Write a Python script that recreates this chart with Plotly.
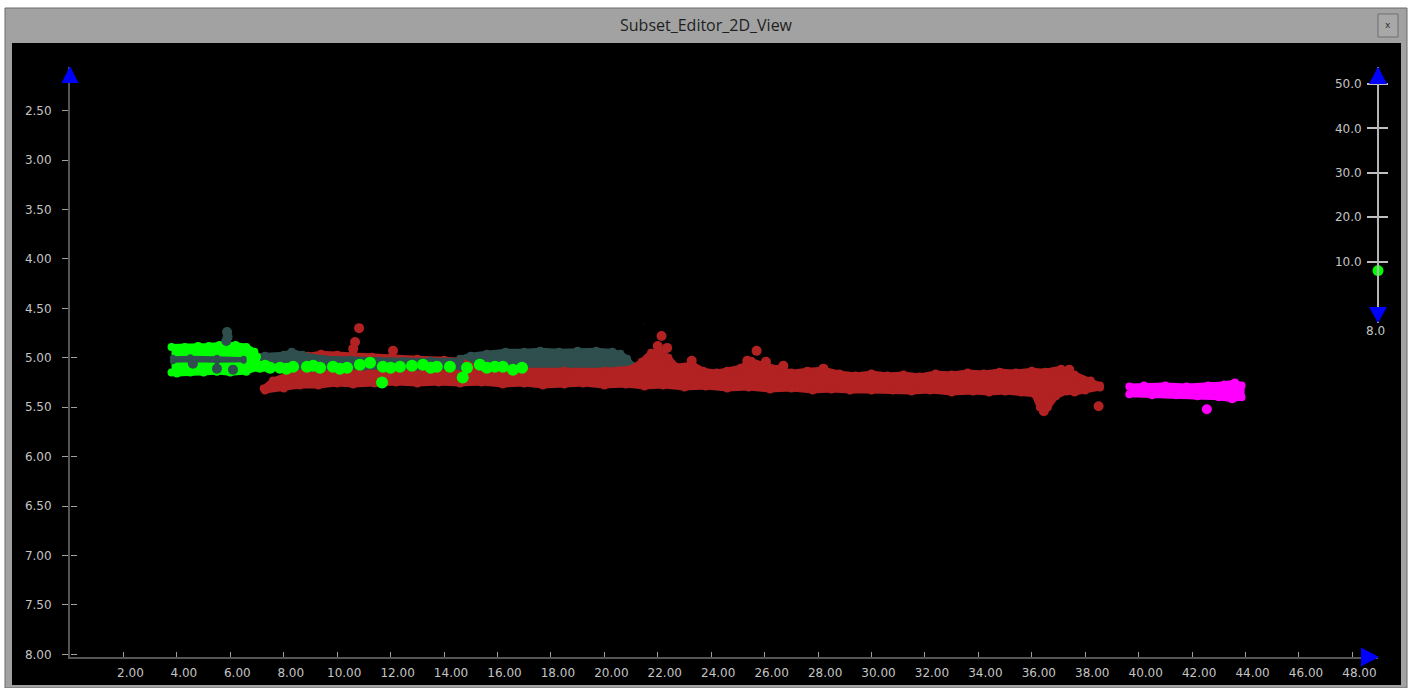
import plotly.graph_objects as go

# ---------------- data ----------------
x_tick_vals = [2, 4, 6, 8, 10, 12, 14, 16, 18, 20, 22, 24, 26, 28, 30, 32, 34, 36, 38, 40, 42, 44, 46, 48]
x_tick_text = ["2.00", "4.00", "6.00", "8.00", "10.00", "12.00", "14.00", "16.00", "18.00", "20.00",
               "22.00", "24.00", "26.00", "28.00", "30.00", "32.00", "34.00", "36.00", "38.00", "40.00",
               "42.00", "44.00", "46.00", "48.00"]
y_tick_vals = [2.5, 3.0, 3.5, 4.0, 4.5, 5.0, 5.5, 6.0, 6.5, 7.0, 7.5, 8.0]
y_tick_text = ["2.50", "3.00", "3.50", "4.00", "4.50", "5.00", "5.50", "6.00", "6.50", "7.00", "7.50", "8.00"]
scale_tick_vals = [10, 20, 30, 40, 50]
scale_tick_text = ["10.0", "20.0", "30.0", "40.0", "50.0"]
scale_value = [8.0]
scale_min_label = "8.0"
title_text = "Subset_Editor_2D_View"

red_band_x = [7.25, 7.6, 8.2, 8.6, 8.9, 9.4, 10.0, 10.6, 11.3, 12.0, 13.0, 14.0, 14.6, 15.2, 16.0, 17.0, 18.5,
              20.0, 21.0, 21.4, 21.75, 22.1, 22.4, 22.7, 23.3, 23.7, 24.2, 24.6, 25.1, 25.5, 25.9, 26.5, 27.0,
              27.6, 28.2, 28.8, 29.4, 30.0, 30.6, 31.2, 31.8, 32.4, 33.0, 33.6, 34.2, 34.8, 35.4, 36.0, 36.5,
              37.1, 37.6, 38.2, 38.55,
              38.55, 38.0, 37.6, 37.3, 36.9, 36.6, 36.3, 36.1, 35.6, 35.0, 34.4, 33.8, 33.0, 32.2, 31.5, 30.8,
              30.0, 29.2, 28.5, 27.8, 27.0, 26.2, 25.4, 24.6, 23.8, 23.0, 22.2, 21.5, 20.8, 20.0, 19.2, 18.5,
              17.7, 17.0, 16.2, 15.4, 14.6, 13.8, 13.0, 12.2, 11.4, 10.6, 10.0, 9.3, 8.6, 8.0, 7.3]
red_band_y = [5.31, 5.23, 5.17, 5.07, 4.98, 4.96, 4.97, 4.97, 4.99, 5.00, 5.01, 5.02, 5.03, 5.10, 5.12, 5.13, 5.13,
              5.13, 5.11, 5.04, 4.95, 4.93, 5.00, 5.09, 5.07, 5.13, 5.15, 5.13, 5.10, 5.03, 5.07, 5.11, 5.15,
              5.13, 5.12, 5.16, 5.18, 5.16, 5.18, 5.17, 5.19, 5.16, 5.17, 5.15, 5.16, 5.14, 5.15, 5.13, 5.14,
              5.11, 5.17, 5.23, 5.28,
              5.30, 5.33, 5.35, 5.34, 5.39, 5.50, 5.50, 5.37, 5.35, 5.34, 5.35, 5.34, 5.35, 5.33, 5.34, 5.33,
              5.33, 5.33, 5.32, 5.33, 5.31, 5.32, 5.30, 5.31, 5.29, 5.30, 5.28, 5.29, 5.27, 5.28, 5.26, 5.27,
              5.28, 5.26, 5.27, 5.25, 5.26, 5.25, 5.26, 5.25, 5.26, 5.27, 5.26, 5.28, 5.28, 5.31, 5.33]
red_pts_x = [10.82, 10.67, 10.6, 12.09, 21.46, 22.14, 22.0, 22.35, 23.27, 25.7, 25.35, 26.05, 26.7, 28.2, 36.45, 38.5, 37.4]
red_pts_y = [4.70, 4.84, 4.91, 4.93, 4.60, 4.78, 4.88, 4.90, 5.03, 4.93, 5.03, 5.04, 5.08, 5.11, 5.54, 5.49, 5.12]

slate_mound_x = [14.6, 15.0, 15.6, 16.3, 17.0, 17.6, 18.3, 19.0, 19.7, 20.3, 20.6, 20.85, 21.05,
                 21.05, 20.0, 18.0, 16.5, 15.0, 14.6]
slate_mound_y = [5.01, 4.98, 4.96, 4.94, 4.94, 4.93, 4.94, 4.93, 4.93, 4.94, 4.96, 5.01, 5.08,
                 5.12, 5.13, 5.13, 5.12, 5.10, 5.08]
slate_row_x = [6.7, 7.3, 8.0, 8.3, 8.7, 9.5, 10.5, 11.5, 12.5, 13.5, 14.6,
               14.6, 13.0, 11.0, 9.0, 8.0, 7.2, 6.7]
slate_row_y = [4.99, 4.98, 4.97, 4.94, 4.97, 5.01, 5.02, 5.03, 5.03, 5.03, 5.03,
               5.09, 5.09, 5.09, 5.10, 5.10, 5.09, 5.07]
slate_stripe_x = [3.85, 4.5, 5.5, 6.5, 6.5, 5.5, 4.5, 3.85]
slate_stripe_y = [5.00, 4.995, 5.00, 5.01, 5.03, 5.035, 5.03, 5.035]
slate_pts_x = [5.88, 5.9, 5.85, 6.1, 5.5, 4.6]
slate_pts_y = [4.74, 4.79, 4.83, 5.12, 5.11, 5.06]

green_block_x = [3.8, 4.3, 4.8, 5.2, 5.6, 6.2, 6.6, 6.9, 7.0, 7.0, 6.6, 6.0, 5.5, 5.0, 4.5, 4.0, 3.8]
green_block_y = [4.89, 4.89, 4.88, 4.88, 4.87, 4.87, 4.89, 4.94, 4.99, 5.10, 5.14, 5.15, 5.14, 5.15, 5.15, 5.16, 5.15]
green_pts_x = [7.11, 7.3, 7.49, 7.86, 8.1, 8.35, 8.87, 9.1, 9.36, 9.84, 10.1, 10.37, 10.85, 11.23, 11.71, 12.0,
               12.35, 12.8, 13.21, 13.5, 13.73, 14.22, 14.86, 15.34, 15.6, 15.9, 16.2, 16.58, 16.92, 11.68, 14.7]
green_pts_y = [5.09, 5.08, 5.10, 5.10, 5.11, 5.09, 5.09, 5.08, 5.10, 5.09, 5.11, 5.10, 5.07, 5.05, 5.09, 5.10,
               5.09, 5.08, 5.07, 5.10, 5.09, 5.09, 5.10, 5.07, 5.10, 5.09, 5.09, 5.12, 5.10, 5.25, 5.20]

magenta_band_x = [39.65, 40.2, 41.0, 41.8, 42.6, 43.2, 43.6, 43.85, 43.85, 43.5, 43.0, 42.2, 41.4, 40.5, 39.65]
magenta_band_y = [5.29, 5.28, 5.28, 5.29, 5.28, 5.27, 5.25, 5.28, 5.40, 5.42, 5.40, 5.39, 5.38, 5.38, 5.37]
magenta_pts_x = [42.55]
magenta_pts_y = [5.52]

# ---------------- geometry / style ----------------
W, H = 1411, 688
L, R, T, B = 70, 33, 67, 31
PX_PER_X = 26.717
PX_PER_Y = 98.836
X_MAX = (W - L - R) / PX_PER_X
Y_TOP = 2.5 - (110.7 - T) / PX_PER_Y
Y_BOT = 8.0 + ((H - B) - 654.3) / PX_PER_Y
S_PX = 4.4425
S_TOP = 50 + (84 - T) / S_PX
S_BOT = 10 - (323 - 261.7) / S_PX

RED, SLATE, GREEN, MAGENTA = "#b22222", "#2f4f4f", "#00ff00", "#ff00ff"
BLUE = "#0000ff"
TICKFONT = dict(family="DejaVu Sans", size=12, color="#c4c4c4")


def fx(px):
    return (px - L) / (W - L - R)


def fy(py):
    return ((H - B) - py) / (H - T - B)


def band(xs, ys, color, lw=6, ms=8):
    return go.Scatter(x=xs, y=ys, mode="lines+markers", fill="toself", fillcolor=color,
                      line=dict(color=color, width=lw), marker=dict(color=color, size=ms),
                      hoverinfo="skip", showlegend=False)


def pts(xs, ys, color, size=10):
    return go.Scatter(x=xs, y=ys, mode="markers", marker=dict(color=color, size=size),
                      hoverinfo="skip", showlegend=False)


fig = go.Figure()
fig.add_trace(band(slate_mound_x, slate_mound_y, SLATE))
fig.add_trace(band(red_band_x, red_band_y, RED))
fig.add_trace(pts(red_pts_x, red_pts_y, RED))
fig.add_trace(band(slate_row_x, slate_row_y, SLATE))
fig.add_trace(band(green_block_x, green_block_y, GREEN))
fig.add_trace(band(slate_stripe_x, slate_stripe_y, SLATE, lw=3, ms=6))
fig.add_trace(pts(slate_pts_x, slate_pts_y, SLATE))
fig.add_trace(pts(green_pts_x, green_pts_y, GREEN, 12))
fig.add_trace(band(magenta_band_x, magenta_band_y, MAGENTA))
fig.add_trace(pts(magenta_pts_x, magenta_pts_y, MAGENTA))
# slider value on the right-hand scale
fig.add_trace(go.Scatter(x=[X_MAX], y=scale_value, yaxis="y2", mode="markers", cliponaxis=False,
                         marker=dict(color=GREEN, size=11), hoverinfo="skip", showlegend=False))
fig.add_trace(go.Scatter(x=[X_MAX], y=scale_value, yaxis="y3", mode="markers", opacity=0,
                         hoverinfo="skip", showlegend=False))
fig.add_trace(go.Scatter(x=[X_MAX], y=[8.0], yaxis="y4", mode="markers", opacity=0,
                         hoverinfo="skip", showlegend=False))

shapes = [
    dict(type="rect", xref="paper", yref="paper", x0=fx(0), x1=fx(W), y0=fy(H), y1=fy(0),
         fillcolor="#ffffff", line=dict(width=0), layer="below"),
    dict(type="rect", xref="paper", yref="paper", x0=fx(5), x1=fx(1407), y0=fy(H), y1=fy(8),
         fillcolor="#a2a2a2", line=dict(color="#6a6a6a", width=1), layer="below"),
    dict(type="rect", xref="paper", yref="paper", x0=fx(12), x1=fx(1401), y0=fy(685), y1=fy(43),
         fillcolor="#000000", line=dict(width=0), layer="below"),
    dict(type="rect", xref="paper", yref="paper", x0=fx(1378), x1=fx(1398), y0=fy(37), y1=fy(14),
         fillcolor="#a8a8a8", line=dict(color="#6e6e6e", width=1), layer="below"),
]


def tri(p1, p2, p3):
    return dict(type="path", xref="paper", yref="paper", layer="above",
                path="M {:.5f},{:.5f} L {:.5f},{:.5f} L {:.5f},{:.5f} Z".format(
                    fx(p1[0]), fy(p1[1]), fx(p2[0]), fy(p2[1]), fx(p3[0]), fy(p3[1])),
                fillcolor=BLUE, line=dict(width=0))


shapes += [
    tri((70, 66), (61.5, 83), (78.5, 83)),
    tri((1379, 657), (1361, 647.5), (1361, 666.5)),
    tri((1378, 66.5), (1369, 84), (1387, 84)),
    tri((1378, 323), (1369, 307), (1387, 307)),
]

annotations = [
    dict(xref="paper", yref="paper", x=fx(706), y=fy(25), text=title_text, showarrow=False,
         font=dict(family="Open Sans", size=16, color="#1e1e1e"), xanchor="center", yanchor="middle"),
    dict(xref="paper", yref="paper", x=fx(1388), y=fy(25), text="x", showarrow=False,
         font=dict(family="DejaVu Sans", size=9, color="#303030"), xanchor="center", yanchor="middle"),
    dict(xref="paper", yref="paper", x=fx(1375), y=fy(331), text=scale_min_label, showarrow=False,
         font=TICKFONT, xanchor="center", yanchor="middle"),
]

fig.update_layout(
    width=W, height=H,
    margin=dict(l=L, r=R, t=T, b=B, pad=0, autoexpand=False),
    paper_bgcolor="#000000", plot_bgcolor="#000000",
    showlegend=False, hovermode=False,
    shapes=shapes, annotations=annotations,
    xaxis=dict(range=[0, X_MAX], domain=[0, 1], showgrid=False, zeroline=False, automargin=False,
               showline=True, linecolor="#555555", linewidth=2,
               tickmode="array", tickvals=x_tick_vals, ticktext=x_tick_text,
               ticks="inside", ticklen=5, tickcolor="#a0a0a0", tickwidth=1,
               ticklabelshift=7, ticklabelstandoff=4, tickfont=TICKFONT),
    yaxis=dict(range=[Y_BOT, Y_TOP], domain=[0, 1], showgrid=False, zeroline=False, automargin=False,
               showline=True, linecolor="#555555", linewidth=2,
               tickmode="array", tickvals=y_tick_vals, ticktext=y_tick_text,
               ticks="outside", ticklen=6, tickcolor="#a0a0a0", tickwidth=1,
               ticklabelstandoff=8, tickfont=TICKFONT),
    yaxis4=dict(range=[Y_BOT, Y_TOP], overlaying="y", anchor="free", position=0, side="right",
                showgrid=False, zeroline=False, showline=False, showticklabels=False, automargin=False,
                tickmode="array", tickvals=y_tick_vals,
                ticks="outside", ticklen=6, tickcolor="#a0a0a0", tickwidth=1),
    yaxis2=dict(range=[S_BOT, S_TOP], domain=[fy(323), fy(67)], anchor="free", position=1, side="left",
                showgrid=False, zeroline=False, showline=True, linecolor="#b4b4b4", linewidth=2,
                automargin=False,
                tickmode="array", tickvals=scale_tick_vals, ticktext=scale_tick_text,
                ticks="outside", ticklen=10, tickcolor="#c0c0c0", tickwidth=2,
                ticklabelstandoff=3, tickfont=TICKFONT),
    yaxis3=dict(range=[S_BOT, S_TOP], overlaying="y2", anchor="free", position=1, side="right",
                showgrid=False, zeroline=False, showline=False, showticklabels=False, automargin=False,
                tickmode="array", tickvals=scale_tick_vals,
                ticks="outside", ticklen=9, tickcolor="#c0c0c0", tickwidth=2),
)

fig.write_html("out.html", config={"displayModeBar": False, "staticPlot": True},
               post_script="document.body.style.margin='0px';document.body.style.overflow='hidden';")
